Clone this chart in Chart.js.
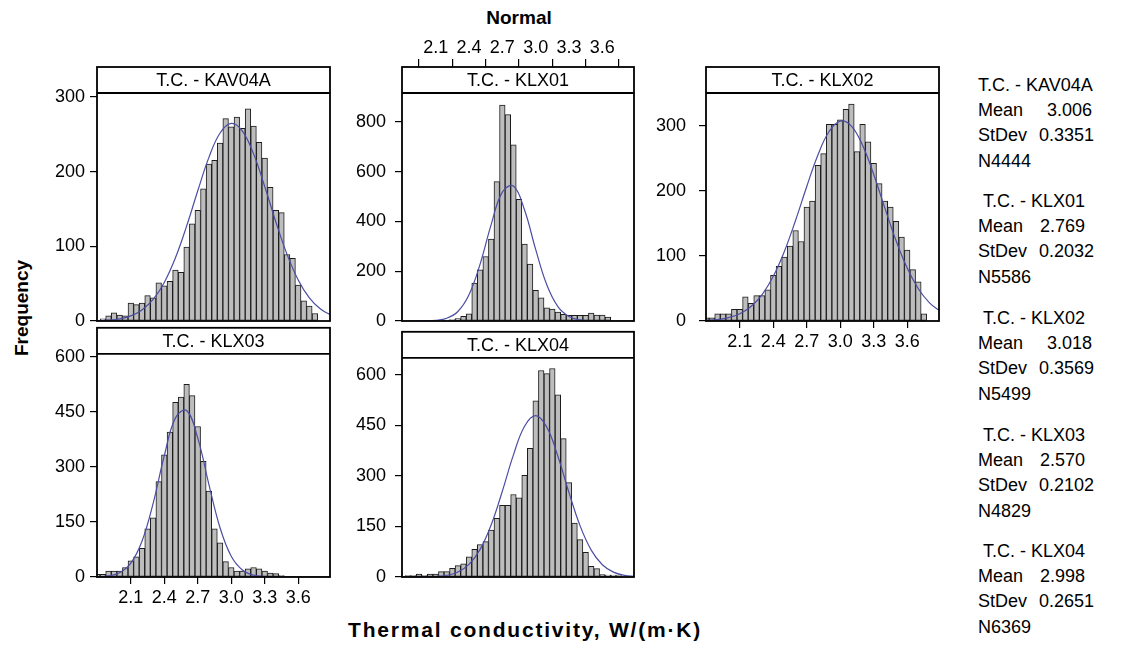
<!DOCTYPE html>
<html lang="en">
<head>
<meta charset="UTF-8">
<title>Thermal conductivity - Normal histograms</title>
<script src="https://cdn.jsdelivr.net/npm/chart.js@4.4.0/dist/chart.umd.min.js"></script>
<style>
    body { margin: 0; background: #fff; }
    #page { position: relative; width: 1121px; height: 645px; overflow: hidden; background: #fff;
            font-family: 'Liberation Sans', Arial, Helvetica, sans-serif; color: #000; }
    #page canvas { position: absolute; }
    .big { position: absolute; font-weight: bold; font-size: 19px; white-space: nowrap; }
    .leg { position: absolute; font-size: 18px; white-space: nowrap; line-height: 20px; }
</style>
</head>
<body>
<div id="page">
    <div class="big" style="left:519px; top:7px; transform:translateX(-50%);">Normal</div>
    <div class="big" style="left:22px; top:308px; transform:translate(-50%,-50%) rotate(-90deg);">Frequency</div>
    <div class="big" style="left:525px; top:618px; transform:translateX(-50%); font-size:21px; letter-spacing:1.8px;">Thermal conductivity, W/(m·K)</div>
</div>
<script>
    // bin midpoints (bin width 0.05) and points where the fitted normal curve is read
    const binCenters = [1.80, 1.85, 1.90, 1.95, 2.00, 2.05, 2.10, 2.15, 2.20, 2.25, 2.30, 2.35, 2.40, 2.45,
        2.50, 2.55, 2.60, 2.65, 2.70, 2.75, 2.80, 2.85, 2.90, 2.95, 3.00, 3.05, 3.10, 3.15, 3.20, 3.25,
        3.30, 3.35, 3.40, 3.45, 3.50, 3.55, 3.60, 3.65, 3.70, 3.75, 3.80];
    const curveX = [1.8, 1.9, 2.0, 2.1, 2.2, 2.3, 2.4, 2.5, 2.6, 2.7, 2.8, 2.9, 3.0, 3.1, 3.2, 3.3,
        3.4, 3.5, 3.6, 3.7, 3.8, 3.9];
    const xTicks = [2.1, 2.4, 2.7, 3.0, 3.3, 3.6];

    const countsKAV04A = [1, 3, 7, 11, 8, 7, 24, 22, 24, 34, 31, 51, 47, 53, 68, 65, 99, 130, 148, 177,
        210, 215, 238, 271, 260, 273, 258, 284, 261, 239, 218, 179, 148, 145, 89, 84, 48, 27, 20, 10, 0];
    const countsKLX01 = [0, 0, 0, 0, 0, 0, 0, 2, 4, 6, 10, 19, 29, 152, 205, 259, 329, 560, 867, 829,
        707, 489, 309, 229, 123, 93, 53, 48, 36, 27, 23, 23, 23, 23, 32, 24, 24, 16, 0, 0, 0];
    const countsKLX02 = [5, 5, 11, 11, 11, 18, 18, 37, 27, 39, 39, 48, 70, 84, 98, 115, 139, 122, 175, 184,
        239, 257, 302, 302, 309, 325, 333, 260, 302, 275, 242, 211, 184, 175, 153, 129, 109, 79, 60, 11, 0];
    const countsKLX03 = [7, 7, 16, 16, 16, 26, 44, 55, 78, 131, 161, 260, 333, 395, 476, 490, 525, 494, 410, 315,
        234, 131, 93, 42, 26, 16, 16, 22, 26, 22, 16, 11, 9, 4, 2, 2, 2, 2, 2, 2, 0];
    const countsKLX04 = [2, 4, 4, 9, 4, 9, 9, 16, 16, 26, 34, 39, 60, 82, 96, 105, 139, 174, 213, 213,
        245, 235, 302, 382, 523, 613, 604, 619, 541, 411, 280, 160, 111, 73, 32, 25, 7, 6, 6, 4, 0];

    const curveKAV04A = [0.4, 1.1, 2.9, 6.8, 14.7, 28.8, 51.6, 84.6, 127.0, 174.3, 219.0, 251.6, 264.5,
        254.3, 223.7, 180.0, 132.5, 89.2, 55.0, 31.0, 16.0, 7.5];
    const curveKLX01 = [0, 0.1, 0.4, 2.4, 10.9, 38.2, 105.4, 228.4, 388.0, 517.7, 542.0, 445.5, 287.4,
        145.5, 57.8, 18.0, 4.4, 0.9, 0.1, 0, 0, 0];
    const curveKLX02 = [0.9, 2.3, 5.3, 11.2, 22.2, 40.6, 68.6, 107.2, 154.8, 206.6, 255.0, 290.9, 306.9,
        299.3, 269.8, 224.9, 173.3, 123.5, 81.3, 49.5, 27.9, 14.5];
    const curveKLX03 = [0.6, 2.9, 11.6, 37.6, 97.4, 200.8, 330.4, 433.6, 453.7, 378.5, 251.9, 133.6, 56.6,
        19.1, 5.1, 1.1, 0.2, 0, 0, 0, 0, 0];
    const curveKLX04 = [0, 0.1, 0.4, 1.5, 5.2, 15.0, 37.6, 82.1, 155.3, 254.7, 362.6, 447.5, 479.2,
        445.0, 358.4, 250.4, 151.8, 79.8, 36.4, 14.4, 4.9, 1.5];

    const panelNames = ['T.C. - KAV04A', 'T.C. - KLX01', 'T.C. - KLX02', 'T.C. - KLX03', 'T.C. - KLX04'];
    const means = ['3.006', '2.769', '3.018', '2.570', '2.998'];
    const stdevs = ['0.3351', '0.2032', '0.3569', '0.2102', '0.2651'];
    const nValues = ['4444', '5586', '5499', '4829', '6369'];

    const yTicks100 = [0, 100, 200, 300];
    const yTicks200 = [0, 200, 400, 600, 800];
    const yTicks150 = [0, 150, 300, 450, 600];

    // layout (pixels)
    const X_MIN = 1.797, X_MAX = 3.885;
    const colLeft = [97, 402, 706], colWidth = [233, 232, 233], yLabelPad = [5, 9, 13];
    const rowTop = [67, 322], rowHeight = [254, 255];
    const AXIS_W = 80, TOP_PAD = [27, 10], BOTTOM_H = [32, 40], HEADER_H = 26;

    const panels = [
        { name: panelNames[0], counts: countsKAV04A, curve: curveKAV04A, yMax: 340, yTicks: yTicks100, col: 0, row: 0, xLabels: false },
        { name: panelNames[1], counts: countsKLX01, curve: curveKLX01, yMax: 1020, yTicks: yTicks200, col: 1, row: 0, xLabels: false, topAxis: true },
        { name: panelNames[2], counts: countsKLX02, curve: curveKLX02, yMax: 390, yTicks: yTicks100, col: 2, row: 0, xLabels: true, labelPad: 3 },
        { name: panelNames[3], counts: countsKLX03, curve: curveKLX03, yMax: 679, yTicks: yTicks150, col: 0, row: 1, xLabels: true, labelPad: 3 },
        { name: panelNames[4], counts: countsKLX04, curve: curveKLX04, yMax: 728, yTicks: yTicks150, col: 1, row: 1, xLabels: false }
    ];

    Chart.defaults.font.family = "'Liberation Sans', Arial, Helvetica, sans-serif";
    Chart.defaults.font.size = 18;
    Chart.defaults.color = '#000';

    // header box with the panel name + frame round the plot
    const panelFrame = {
        id: 'panelFrame',
        afterDraw(chart, args, opts) {
            const { ctx, chartArea: a } = chart;
            ctx.save();
            ctx.fillStyle = '#fff';
            ctx.fillRect(a.left, a.top, a.right - a.left, HEADER_H);
            ctx.strokeStyle = '#000';
            ctx.lineWidth = 1.8;
            ctx.strokeRect(a.left, a.top, a.right - a.left, a.bottom - a.top);
            ctx.beginPath();
            ctx.moveTo(a.left, a.top + HEADER_H);
            ctx.lineTo(a.right, a.top + HEADER_H);
            ctx.stroke();
            ctx.fillStyle = '#000';
            ctx.font = "18px 'Liberation Sans', Arial, sans-serif";
            ctx.textAlign = 'center';
            ctx.textBaseline = 'middle';
            ctx.fillText(opts.title, (a.left + a.right) / 2, a.top + HEADER_H / 2 + 1);
            ctx.restore();
        }
    };

    function setTicks(list) {
        return axis => { axis.ticks = list.map(v => ({ value: v })); };
    }

    function makePanel(p) {
        const page = document.getElementById('page');
        const cv = document.createElement('canvas');
        const w = AXIS_W + colWidth[p.col] + 2;
        const h = TOP_PAD[p.row] + rowHeight[p.row] + BOTTOM_H[p.row];
        cv.width = w;
        cv.height = h;
        cv.style.width = w + 'px';
        cv.style.height = h + 'px';
        cv.style.left = (colLeft[p.col] - AXIS_W) + 'px';
        cv.style.top = (rowTop[p.row] - TOP_PAD[p.row]) + 'px';
        page.appendChild(cv);

        const scales = {
            x: {
                type: 'linear', min: X_MIN, max: X_MAX, offset: false,
                afterBuildTicks: setTicks(xTicks),
                afterFit: axis => { axis.height = BOTTOM_H[p.row]; },
                grid: { display: p.xLabels, drawOnChartArea: false, offset: false, tickLength: 7, color: '#000', lineWidth: 1.2 },
                border: { display: false },
                ticks: { display: p.xLabels, autoSkip: false, maxRotation: 0, padding: p.labelPad || 0,
                         callback: v => v.toFixed(1) }
            },
            y: {
                min: 0, max: p.yMax,
                afterBuildTicks: setTicks(p.yTicks),
                afterFit: axis => { axis.width = AXIS_W; },
                grid: { drawOnChartArea: false, tickLength: 7, color: '#000', lineWidth: 1.2 },
                border: { display: false },
                ticks: { padding: yLabelPad[p.col] }
            }
        };
        if (p.topAxis) {
            scales.x2 = {
                type: 'linear', position: 'top', min: X_MIN, max: X_MAX, offset: false,
                afterBuildTicks: setTicks(xTicks),
                afterFit: axis => { axis.height = TOP_PAD[p.row]; },
                grid: { drawOnChartArea: false, tickLength: 8, color: '#000', lineWidth: 1.2 },
                border: { display: false },
                ticks: { autoSkip: false, maxRotation: 0, padding: 0, callback: v => v.toFixed(1) }
            };
        }

        return new Chart(cv, {
            type: 'bar',
            data: {
                datasets: [
                    {
                        type: 'line',
                        data: curveX.map((x, i) => ({ x: x, y: p.curve[i] })),
                        borderColor: '#4d4da3',
                        borderWidth: 1.2,
                        pointRadius: 0,
                        tension: 0.4,
                        fill: false,
                        order: 1
                    },
                    {
                        type: 'bar',
                        data: binCenters.map((x, i) => ({ x: x, y: p.counts[i] })),
                        backgroundColor: '#bdbdbd',
                        borderColor: '#1c1c1c',
                        borderWidth: 1,
                        borderSkipped: false,
                        barPercentage: 1,
                        categoryPercentage: 1,
                        order: 2
                    }
                ]
            },
            options: {
                responsive: false,
                animation: false,
                devicePixelRatio: 1,
                layout: { padding: { top: p.topAxis ? 0 : TOP_PAD[p.row], right: 2, left: 0, bottom: 0 } },
                plugins: {
                    legend: { display: false },
                    tooltip: { enabled: false },
                    panelFrame: { title: p.name }
                },
                scales: scales
            },
            plugins: [panelFrame]
        });
    }

    panels.forEach(makePanel);

    // statistics text on the right
    const legTop = [85, 201, 318, 435, 551], lineOff = [0, 25, 50, 76];
    const page = document.getElementById('page');
    function addText(txt, x, y) {
        const d = document.createElement('div');
        d.className = 'leg';
        d.textContent = txt;
        d.style.left = x + 'px';
        d.style.top = (y - 10) + 'px';
        page.appendChild(d);
    }
    panelNames.forEach((name, i) => {
        const y0 = legTop[i];
        const wide = means[i].charAt(0) === '3';
        addText(name, i === 0 ? 978 : 983, y0 + lineOff[0]);
        addText('Mean', 978, y0 + lineOff[1]);
        addText(means[i], wide ? 1047 : 1040, y0 + lineOff[1]);
        addText('StDev', 978, y0 + lineOff[2]);
        addText(stdevs[i], 1039, y0 + lineOff[2]);
        addText('N' + nValues[i], 978, y0 + lineOff[3]);
    });
</script>
</body>
</html>
